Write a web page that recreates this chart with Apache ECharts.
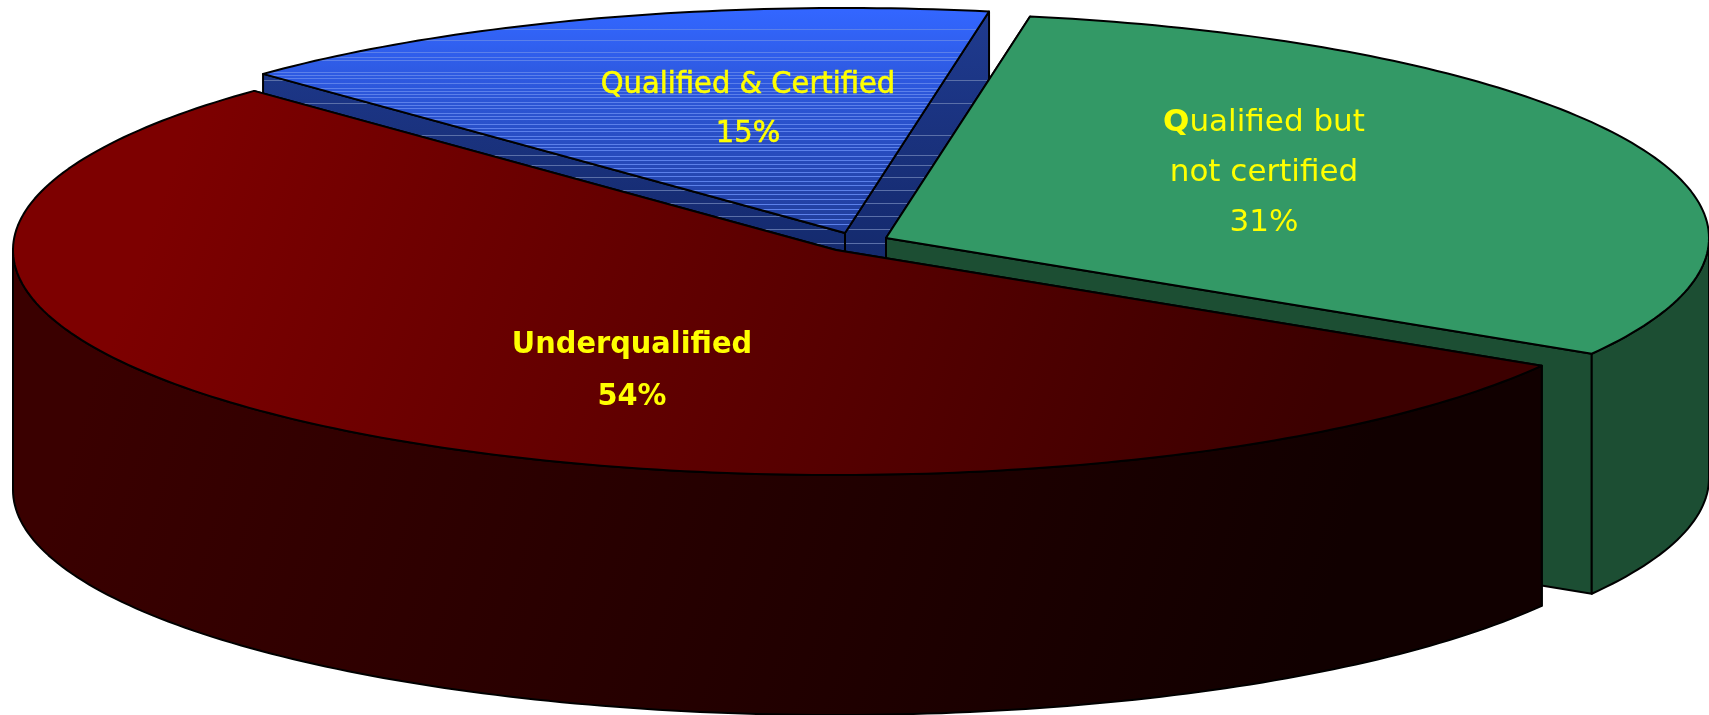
<!DOCTYPE html>
<html>
<head>
<meta charset="utf-8">
<title>Qualification pie</title>
<style>
  html, body { margin: 0; padding: 0; background: #fff; }
  #chart-pie { width: 1709px; height: 715px; }
</style>
<script src="https://cdn.jsdelivr.net/npm/echarts@6/dist/echarts.min.js"></script>
</head>
<body>
<div id="chart-pie"></div>
<script>
// slices in clockwise order from the top left, which is also back to front
const categories = ['Qualified & Certified', 'Qualified but\nnot certified', 'Underqualified'];
const shares = [15.3, 30.8, 53.9];

// drawing setup
const rx = 823, ry = 225, depth = 240, startAngle = 135;
const centers = [[845, 233], [886, 238], [836, 250]];
const labelSpots = [[748, 85], [1264, 123], [632, 345]];
const labelLineHeight = [49, 50, 52];
const labelWidthScale = [0.935, 1, 0.93];
const fontFamily = '"DejaVu Sans", sans-serif';
const blueLines = [29, 40, 52, 57, 60, 72, 75, 78, 83, 88, 91, 94, 97, 102, 105, 108, 113, 116, 119, 124,
  128, 131, 136, 139, 144, 147, 150, 156, 160, 164, 168, 172, 176, 181, 185, 190, 194, 199, 204, 209, 214, 219, 224];
const blueWallLines = [80, 103, 135, 155, 165, 177, 190, 203, 216, 229, 243];

function gradient(x, y, x2, y2, stops) {
  return new echarts.graphic.LinearGradient(x, y, x2, y2, stops, true);
}

function stripedBlue(top, bottom, from, to, lines, lineColor) {
  const span = to - from;
  const stops = [{ offset: 0, color: top }];
  lines.forEach(y => {
    const f = (y - from) / span;
    const base = echarts.color.lerp(f, [top, bottom]);
    stops.push({ offset: f, color: base });
    stops.push({ offset: f, color: lineColor });
    stops.push({ offset: f + 1.1 / span, color: lineColor });
    stops.push({ offset: f + 1.1 / span, color: base });
  });
  stops.push({ offset: 1, color: bottom });
  return gradient(0, from, 0, to, stops);
}

const paints = [
  {
    top: () => stripedBlue('#3366ff', '#203c98', 11, 233, blueLines, '#5b80ea'),
    face: () => stripedBlue('#1f3a8e', '#13286a', 20, 280, blueWallLines, '#5a6fa8'),
    wall: () => '#1b347f'
  },
  { top: () => '#339966', face: () => '#1c4e33', wall: () => '#1c4e33' },
  {
    top: () => gradient(200, 90, 1300, 480, [
      { offset: 0, color: '#7d0000' },
      { offset: 1, color: '#3c0000' }
    ]),
    face: () => '#2a0000',
    wall: () => gradient(100, 350, 1300, 700, [
      { offset: 0, color: '#3a0000' },
      { offset: 1, color: '#110000' }
    ])
  }
];

function rimPoint(c, deg, drop) {
  const a = deg * Math.PI / 180;
  return [c[0] + rx * Math.cos(a), c[1] - ry * Math.sin(a) + drop];
}

function arc(c, from, to, drop) {
  const pts = [];
  const steps = Math.max(2, Math.ceil(Math.abs(from - to)));
  for (let i = 0; i <= steps; i++) {
    pts.push(rimPoint(c, from + (to - from) * i / steps, drop));
  }
  return pts;
}

function poly(points, fill) {
  return {
    type: 'polygon',
    shape: { points: points },
    style: { fill: fill, stroke: '#000', lineWidth: 2, lineJoin: 'round' }
  };
}

function renderSlice(params, api) {
  const i = params.dataIndex;
  const before = shares.slice(0, i).reduce((s, v) => s + v, 0);
  const a0 = startAngle - before * 3.6;
  const a1 = a0 - api.value(0) * 3.6;
  const c = centers[i];
  const p = paints[i];
  const apex = [c[0], c[1]];
  const apexLow = [c[0], c[1] + depth];
  const children = [];

  // the two cut faces
  [a0, a1].forEach(a => {
    children.push(poly([apex, rimPoint(c, a, 0), rimPoint(c, a, depth), apexLow], p.face()));
  });

  // outer wall, front half of the rim only
  const wallFrom = Math.min(a0, 0);
  const wallTo = Math.max(a1, -180);
  if (wallFrom > wallTo) {
    const upper = arc(c, wallFrom, wallTo, 0);
    const lower = arc(c, wallTo, wallFrom, depth);
    children.push(poly(upper.concat(lower), p.wall()));
  }

  children.push(poly([apex].concat(arc(c, a0, a1, 0)), p.top()));

  // labels
  const lines = categories[i].split('\n').concat(Math.round(api.value(0)) + '%');
  lines.forEach((line, n) => {
    const bold = i === 2;
    const rest = i === 1 && n === 0 ? '{q|Q}' + line.slice(1) : line;
    children.push({
      type: 'text',
      x: labelSpots[i][0],
      y: labelSpots[i][1] + n * labelLineHeight[i],
      scaleX: labelWidthScale[i],
      style: {
        text: rest,
        fill: '#ffff00',
        stroke: i === 0 ? '#ffff00' : null,
        lineWidth: i === 0 ? 0.6 : 0,
        font: (bold ? '700 ' : '') + '31px ' + fontFamily,
        align: 'center',
        verticalAlign: 'middle',
        rich: { q: { fill: '#ffff00', font: '700 31px ' + fontFamily } }
      }
    });
  });

  return { type: 'group', children: children };
}

const chart = echarts.init(document.querySelector('#chart-pie'));
chart.setOption({
  backgroundColor: '#fff',
  animation: false,
  series: [{
    type: 'custom',
    coordinateSystem: 'none',
    renderItem: renderSlice,
    silent: true,
    data: shares.map((v, i) => ({ name: categories[i], value: [v] }))
  }]
});
</script>
</body>
</html>
